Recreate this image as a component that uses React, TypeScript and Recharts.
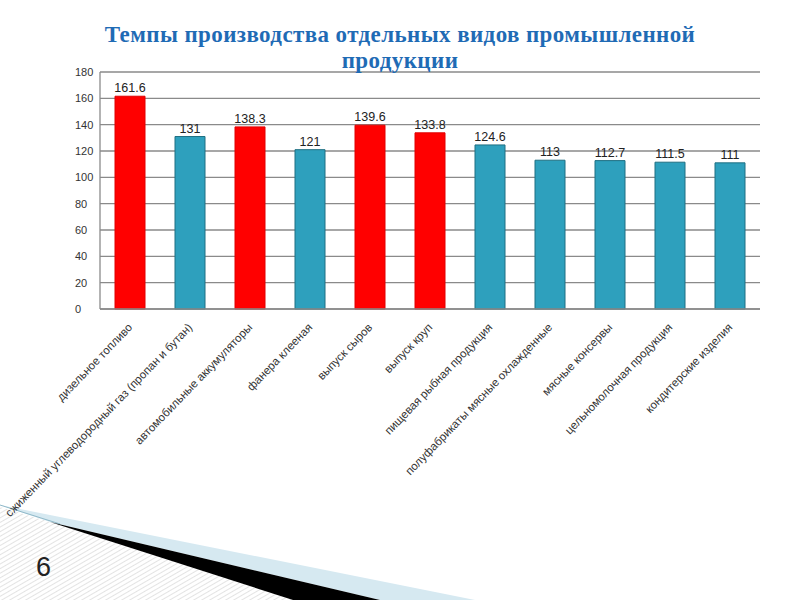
import React from "react";
import { BarChart, Bar, XAxis, YAxis, CartesianGrid, Cell, LabelList } from "recharts";

const categories = [
  "дизельное топливо",
  "сжиженный углеводородный газ (пропан и бутан)",
  "автомобильные аккумуляторы",
  "фанера клееная",
  "выпуск сыров",
  "выпуск круп",
  "пищевая рыбная продукция",
  "полуфабрикаты мясные охлажденные",
  "мясные консервы",
  "цельномолочная продукция",
  "кондитерские изделия",
];
const values = [161.6, 131, 138.3, 121, 139.6, 133.8, 124.6, 113, 112.7, 111.5, 111];
const highlighted = [1, 0, 1, 0, 1, 1, 0, 0, 0, 0, 0];
const yTicks = [0, 20, 40, 60, 80, 100, 120, 140, 160, 180];
const titleLines = ["Темпы производства отдельных видов промышленной", "продукции"];
const pageNumber = "6";

const data = categories.map((name, i) => ({ name, v: values[i] }));

const RED = "#ff0000";
const TEAL = "#2ea0bd";

const XTick = (props: any) => {
  const { x, y, payload } = props;
  return (
    <g transform={`translate(${x + 3},${y + 11})`}>
      <text
        transform="rotate(-46)"
        textAnchor="end"
        fontSize={11.5}
        fontFamily="Arial, 'Liberation Sans', sans-serif"
        fill="#333"
      >
        {payload.value}
      </text>
    </g>
  );
};

const YTick = (props: any) => {
  const { y, payload } = props;
  return (
    <text
      x={75}
      y={y + 4}
      textAnchor="start"
      fontSize={11}
      fontFamily="Arial, 'Liberation Sans', sans-serif"
      fill="#333"
    >
      {payload.value}
    </text>
  );
};

export default function App() {
  return (
    <div style={{ position: "absolute", left: 0, top: 0, width: 800, height: 600, background: "#fff", overflow: "hidden" }}>
      <svg width={800} height={600} style={{ position: "absolute", left: 0, top: 0 }}>
        <defs>
          <pattern id="hatch" width="4" height="4" patternUnits="userSpaceOnUse" patternTransform="rotate(60)">
            <line x1="0" y1="0" x2="0" y2="4" stroke="#c8c8c8" strokeWidth="1" />
          </pattern>
        </defs>
        <polygon points="0,507 50,522 293,600 0,600" fill="url(#hatch)" />
        <polygon points="0,505 475,600 380,600 50,522" fill="#d6e9f1" />
        <line x1="0" y1="505" x2="60" y2="524" stroke="#8fb8c8" strokeWidth="1" />
        <polygon points="50,522 380,600 293,600" fill="#000" />
        <text x={36} y={576} fontSize={27} fontFamily="Arial, 'Liberation Sans', sans-serif" fill="#222">
          {pageNumber}
        </text>
      </svg>
      <div style={{ position: "absolute", left: 0, top: 0 }}>
        <BarChart width={800} height={600} data={data} margin={{ top: 72, right: 40, bottom: 0, left: 0 }}>
          <CartesianGrid vertical={false} stroke="#8a8a8a" strokeWidth={1.3} />
          <XAxis
            dataKey="name"
            interval={0}
            height={291}
            tick={XTick}
            tickLine={false}
            axisLine={{ stroke: "#8a8a8a", strokeWidth: 1.3 }}
          />
          <YAxis
            type="number"
            width={100}
            domain={[0, 180]}
            ticks={yTicks}
            tick={YTick}
            tickLine={false}
            axisLine={{ stroke: "#8a8a8a", strokeWidth: 1.3 }}
          />
          <Bar dataKey="v" barSize={30} fill={TEAL} isAnimationActive={false}>
            {data.map((d, i) => (
              <Cell key={`c${i}`} fill={highlighted[i] ? RED : TEAL} stroke={highlighted[i] ? "#e00000" : "#1f6f82"} />
            ))}
            <LabelList
              dataKey="v"
              position="top"
              offset={4}
              fontSize={12.5}
              fontFamily="Arial, 'Liberation Sans', sans-serif"
              fill="#222"
            />
          </Bar>
        </BarChart>
      </div>
      <div
        style={{
          position: "absolute",
          left: 0,
          top: 22,
          width: 800,
          textAlign: "center",
          fontFamily: "'Times New Roman', 'Liberation Serif', serif",
          fontWeight: "bold",
          fontSize: 23,
          lineHeight: "26px",
          letterSpacing: "0.4px",
          color: "#1f6bb5",
        }}
      >
        {titleLines.map((l, i) => (
          <div key={i}>{l}</div>
        ))}
      </div>
    </div>
  );
}
